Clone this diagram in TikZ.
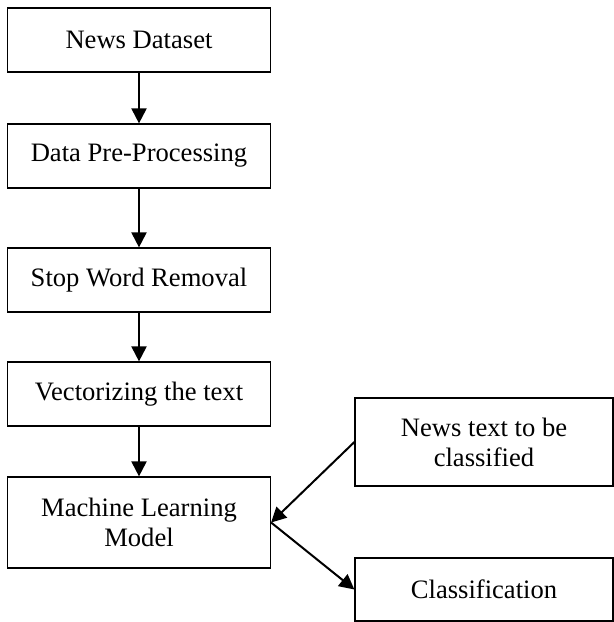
\documentclass[tikz,border=0pt]{standalone}
\usepackage{fontspec}
\setmainfont{Liberation Serif}
\usetikzlibrary{arrows.meta}

\tikzset{
  box/.style = {draw, line width=0.6pt, align=center, inner sep=2pt,
                font=\fontsize{13.3}{15}\selectfont},
  flow/.style = {line width=1pt, -{Triangle[length=7.5pt, width=7.5pt]}}
}

\begin{document}
\begin{tikzpicture}[x=0.5pt, y=-0.5pt]

\useasboundingbox (0,0) rectangle (614,622);

\node[box, minimum width=131.5pt, minimum height=32pt] (data) at (139,40) {News Dataset};
\node[box, minimum width=131.5pt, minimum height=32pt] (prep) at (139,156) {Data Pre-Processing};
\node[box, minimum width=131.5pt, minimum height=32pt] (stop) at (139,280) {Stop Word Removal};
\node[box, minimum width=131.5pt, minimum height=32pt] (vect) at (139,394) {Vectorizing the text};
\node[box, minimum width=131.5pt, minimum height=45.5pt] (model) at (139,522.5) {Machine Learning\\Model};

\node[box, minimum width=129pt, minimum height=44pt] (input) at (484,442) {News text to be\\classified};
\node[box, minimum width=129pt, minimum height=31.5pt] (result) at (484,589.5) {Classification};

\draw[flow] (data) -- (prep);
\draw[flow] (prep) -- (stop);
\draw[flow] (stop) -- (vect);
\draw[flow] (vect) -- (model);

\draw[flow] (input.west) -- (model.east);
\draw[flow] (model.east) -- (result.west);

\end{tikzpicture}
\end{document}
